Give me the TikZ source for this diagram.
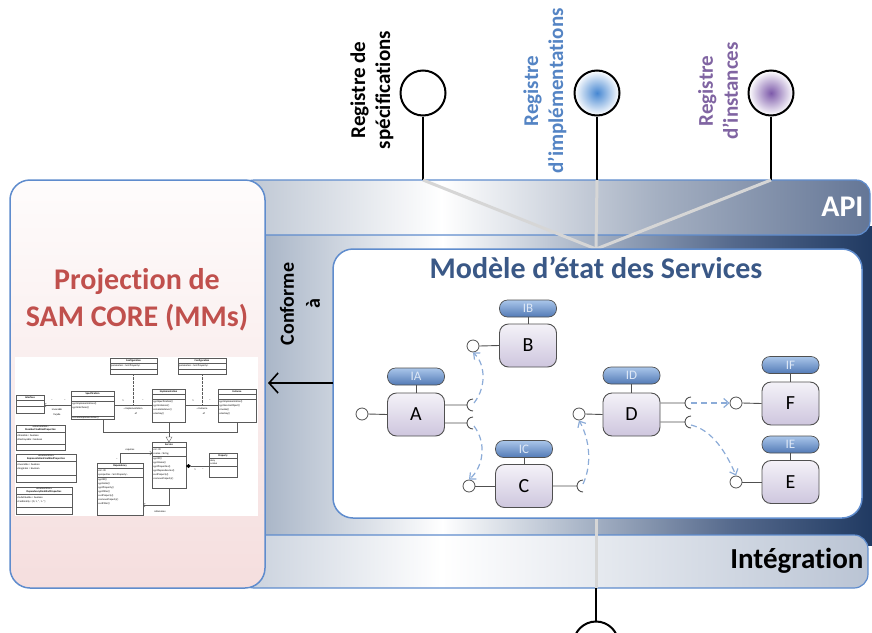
\documentclass[tikz,border=0pt]{standalone}
\usepackage{fontspec}
\setmainfont{Carlito}[Ligatures={NoCommon}]
\usetikzlibrary{arrows.meta,calc}
\definecolor{bord}{RGB}{95,140,205}
\definecolor{apiL}{RGB}{188,197,210}
\definecolor{apiM}{RGB}{165,176,194}
\definecolor{apiR}{RGB}{100,118,150}
\definecolor{midL}{RGB}{158,172,192}
\definecolor{midM}{RGB}{170,182,200}
\definecolor{midD}{RGB}{85,105,140}
\definecolor{midR}{RGB}{32,58,98}
\definecolor{intL}{RGB}{200,208,220}
\definecolor{intR}{RGB}{186,196,212}
\definecolor{projT}{RGB}{254,252,252}
\definecolor{projB}{RGB}{245,222,222}
\definecolor{projRed}{RGB}{192,80,77}
\definecolor{titleBlue}{RGB}{58,88,134}
\definecolor{implBlue}{RGB}{84,132,196}
\definecolor{instPurple}{RGB}{128,100,162}
\definecolor{greyLine}{RGB}{214,214,214}
\definecolor{dashC}{RGB}{140,172,216}
\definecolor{compBorder}{RGB}{80,80,80}
\definecolor{compT}{RGB}{244,242,248}
\definecolor{compB}{RGB}{206,198,222}
\definecolor{pillT}{RGB}{170,198,234}
\definecolor{pillB}{RGB}{82,122,182}
\definecolor{pillText}{RGB}{222,232,246}
\definecolor{radBlue}{RGB}{70,135,210}
\definecolor{radPurple}{RGB}{125,90,170}
\definecolor{umlLine}{RGB}{90,90,90}
\pgfdeclarehorizontalshading{apishade}{100bp}{color(0bp)=(apiL); color(25bp)=(apiL); color(41bp)=(white); color(58bp)=(apiM); color(75bp)=(apiR); color(100bp)=(apiR)}
\pgfdeclarehorizontalshading{midshade}{100bp}{color(0bp)=(midL); color(25bp)=(midL); color(41bp)=(white); color(52bp)=(midM); color(64bp)=(midD); color(75bp)=(midR); color(100bp)=(midR)}
\pgfdeclarehorizontalshading{intshade}{100bp}{color(0bp)=(intL); color(25bp)=(intL); color(41bp)=(white); color(75bp)=(intR); color(100bp)=(intR)}
\newcounter{utc}
\newcommand\ut[4][]{\stepcounter{utc}\node[ut,#1] (ut\arabic{utc}) at (#2,#3) {#4};}
\begin{document}
\begin{tikzpicture}[x=1pt,y=-1pt,
  comp/.style={draw=compBorder, line width=0.9pt, rounded corners=9pt, top color=compT, bottom color=compB, minimum width=57pt, minimum height=43pt, inner sep=0pt, font=\fontsize{20}{20}\selectfont},
  pill/.style={draw=compBorder, line width=0.7pt, rounded corners=8pt, top color=pillT, bottom color=pillB, minimum width=57pt, minimum height=17pt, inner sep=0pt, text=pillText, font=\fontsize{13}{13}\selectfont},
  lolli/.style={circle, draw=compBorder, fill=white, line width=0.8pt, minimum size=12pt, inner sep=0pt},
  link/.style={draw=compBorder, line width=0.9pt},
  dasharrow/.style={draw=dashC, line width=1.2pt, dash pattern=on 6pt off 4pt, -{Straight Barb[length=5pt,width=9pt]}},
  reg/.style={circle, draw=black, line width=2pt, minimum size=45pt, inner sep=0pt},
  regtext/.style={rotate=90, align=center, font=\bfseries\fontsize{21}{25}\selectfont},
  grey/.style={draw=greyLine, line width=3pt},
  ut/.style={inner sep=0pt, font=\fontsize{2.6}{3}\selectfont},
  umlc/.style={draw=umlLine, line width=0.35pt, fill=white}
]
\useasboundingbox (0,0) rectangle (872,632);
\fill[white] (0,0) rectangle (872,632);

% bands
\shade[shading=midshade] (240,226) rectangle (872,545);
\shadedraw[shading=apishade, draw=bord, line width=1.2pt, rounded corners=14pt] (240,180) rectangle (870,235);
\shadedraw[shading=intshade, draw=bord, line width=1.2pt, rounded corners=14pt] (240,535) rectangle (868,588);

% registry lollipops
\node[reg, fill=white] (regS) at (423,93) {};
\node[reg, inner color=radBlue, outer color=white] (regI) at (597,93) {};
\node[reg, inner color=radPurple, outer color=white] (regN) at (771,93) {};
\node[reg, fill=white] (regB) at (596,644) {};
\coordinate (stS) at (423,180);
\coordinate (stI) at (597,180);
\coordinate (stN) at (771,180);
\coordinate (stB) at (596,588);
\coordinate (conv) at (596,249);
\coordinate (modB) at (596,518);
\draw[line width=2pt] (regS.south) -- (stS);
\draw[line width=2pt] (regI.south) -- (stI);
\draw[line width=2pt] (regN.south) -- (stN);
\draw[line width=2pt] (regB.north) -- (stB);
\draw[grey] (stS) -- (conv);
\draw[grey] (stI) -- (conv);
\draw[grey] (stN) -- (conv);
\draw[grey] (modB) -- (stB);

\node[regtext] (tS) at (372,90) {Registre de\\spécifications};
\node[regtext, text=implBlue] (tI) at (545,91) {Registre\\d’implémentations};
\node[regtext, text=instPurple] (tN) at (718,91) {Registre\\d’instances};

% band labels
\node[anchor=east, text=white, font=\bfseries\fontsize{30}{30}\selectfont] (api) at (867,207) {API};
\node[anchor=east, font=\bfseries\fontsize{29}{29}\selectfont] (integ) at (867,561) {Intégration};

% model box
\node[draw=bord, fill=white, line width=1.5pt, rounded corners=20pt, minimum width=529pt, minimum height=269pt, inner sep=0pt] (model) at (597.5,383.5) {};
\node[text=titleBlue, font=\bfseries\fontsize{30}{30}\selectfont] (mtitle) at (596,268) {Modèle d’état des Services};

% left projection box
\node[draw=bord, top color=projT, bottom color=projB, line width=1.5pt, rounded corners=20pt, minimum width=255pt, minimum height=408pt, inner sep=0pt] (proj) at (137.5,384) {};
\node[text=projRed, align=center, font=\bfseries\fontsize{30}{37}\selectfont] (ptitle) at (137,300) {Projection de\\SAM CORE (MMs)};

% conforme
\node[regtext, font=\bfseries\fontsize{20}{26}\selectfont] (conf) at (300,304) {Conforme\\à};
\coordinate (cfS) at (333,383);
\coordinate (cfE) at (268,383);
\draw[line width=1.6pt, -{Straight Barb[length=9pt,width=20pt]}] (cfS) -- (cfE);

% ---------- UML ----------
\fill[white] (15,357) rectangle (258,516);
% Configurations
\draw[umlc] (110,358) rectangle (157,374); \draw[umlLine,line width=0.35pt] (110,363) -- (157,363) (110,369) -- (157,369);
\ut{133.5}{360.5}{\textbf{Configuration}} \ut[anchor=west]{111}{366}{parameters : Set<Property>}
\draw[umlc] (178,358) rectangle (226,374); \draw[umlLine,line width=0.35pt] (178,363) -- (226,363) (178,369) -- (226,369);
\ut{202}{360.5}{\textbf{Configuration}} \ut[anchor=west]{179}{366}{parameters : Set<Property>}
% dotted
\draw[umlLine, line width=0.35pt, densely dotted] (133,374) -- (133,405);
\draw[umlLine, line width=0.35pt, densely dotted] (202,374) -- (202,405);
% Interface
\draw[umlc] (16,395) rectangle (44,413); \draw[umlLine,line width=0.35pt] (16,400) -- (44,400) (16,406) -- (44,406);
\ut{30}{397.5}{\textbf{Interface}}
% Specification
\draw[umlc] (71,391) rectangle (114,419); \draw[umlLine,line width=0.35pt] (71,396) -- (114,396) (71,401) -- (114,401) (71,416) -- (114,416);
\ut{92.5}{393.5}{\textbf{Specification}}
\ut[anchor=west]{72}{404}{+getImplementations()} \ut[anchor=west]{72}{408}{+getInterfaces()} \ut[anchor=west]{72}{417.5}{+createImplementation()}
% Implementation
\draw[umlc] (152,389) rectangle (185,422); \draw[umlLine,line width=0.35pt] (152,394) -- (185,394) (152,399) -- (185,399);
\ut{168.5}{391.5}{\textbf{Implementation}}
\ut[anchor=west]{153}{402}{+getSpecification()} \ut[anchor=west]{153}{406}{+getInstances()} \ut[anchor=west]{153}{410}{+createInstance()} \ut[anchor=west]{153}{414}{+destroy()}
% Instance
\draw[umlc] (218,389) rectangle (256,422); \draw[umlLine,line width=0.35pt] (218,394) -- (256,394) (218,399) -- (256,399);
\ut{237}{391.5}{\textbf{Instance}}
\ut[anchor=west]{219}{402}{+getImplementation()} \ut[anchor=west]{219}{406}{+getServiceObject()} \ut[anchor=west]{219}{410}{+invoke()} \ut[anchor=west]{219}{414}{+destroy()}
% associations top row
\draw[umlLine, line width=0.35pt, -{Straight Barb[length=2pt,width=4pt]}] (71,405) -- (44,405);
\ut{52}{401}{*} \ut{65}{401}{*} \ut{57}{410}{invocable} \ut{57}{415}{façade}
\draw[umlLine, line width=0.35pt] (114,405) -- (152,405);
\ut{123}{401}{1} \ut{143}{401}{*} \ut{133}{409}{« Implementation} \ut{136}{414}{of}
\draw[umlLine, line width=0.35pt] (185,405) -- (218,405);
\ut{193}{401}{1} \ut{210}{401}{*} \ut{202}{409}{« Instance} \ut{204}{414}{of}
% generalization
\draw[umlLine, line width=0.35pt] (103,419) -- (103,432) -- (237,432) -- (237,422);
\draw[umlLine, line width=0.35pt] (169,422) -- (169,438);
\draw[umlLine, line width=0.35pt, fill=white] (169,442) -- (166,437) -- (172,437) -- cycle;
% enumerations
\draw[umlc] (16,425) rectangle (65,450); \draw[umlLine,line width=0.35pt] (16,432) -- (65,432) (16,444) -- (65,444);
\ut{40.5}{427}{«enumeration»} \ut{40.5}{430}{\textbf{MemberFinalKindProperties}}
\ut[anchor=west]{17}{435.5}{+Sharable = boolean} \ut[anchor=west]{17}{439.5}{+Destroyable = boolean}
\draw[umlc] (16,454) rectangle (76,482); \draw[umlLine,line width=0.35pt] (16,461) -- (76,461) (16,475) -- (76,475);
\ut{46}{456}{«enumeration»} \ut{46}{459}{\textbf{RepresentationFinalKindProperties}}
\ut[anchor=west]{17}{464.5}{+Invocable = boolean} \ut[anchor=west]{17}{468.5}{+Singleton = boolean}
\draw[umlc] (16,487) rectangle (72,514); \draw[umlLine,line width=0.35pt] (16,494) -- (72,494) (16,507) -- (72,507);
\ut{44}{489}{«enumeration»} \ut{44}{492}{\textbf{DependencyFinalKindProperties}}
\ut[anchor=west]{17}{497.5}{+Substituable = boolean} \ut[anchor=west]{17}{501.5}{+Cardinality = \{0, 1, *, 1..*\}}
% Service
\draw[umlc] (152,442) rectangle (186,488); \draw[umlLine,line width=0.35pt] (152,447) -- (186,447) (152,456) -- (186,456);
\ut{169}{444.5}{\textbf{Service}}
\ut[anchor=west]{153}{449.5}{+id : ID} \ut[anchor=west]{153}{453.5}{+name : String}
\ut[anchor=west]{153}{459}{+getID()} \ut[anchor=west]{153}{463}{+getName()} \ut[anchor=west]{153}{467}{+getProperties()}
\ut[anchor=west]{153}{471}{+getDependencies()} \ut[anchor=west]{153}{475}{+setProperty()} \ut[anchor=west]{153}{479}{+removeProperty()}
% Dependency
\draw[umlc] (97,463) rectangle (143,515); \draw[umlLine,line width=0.35pt] (97,468) -- (143,468) (97,477) -- (143,477);
\ut{120}{465.5}{\textbf{Dependency}}
\ut[anchor=west]{98}{470.5}{+id : ID} \ut[anchor=west]{98}{474.5}{+properties : Set<Property>}
\ut[anchor=west]{98}{480}{+getID()} \ut[anchor=west]{98}{484}{+getLinks()} \ut[anchor=west]{98}{488}{+getProperty()}
\ut[anchor=west]{98}{492}{+getFilter()} \ut[anchor=west]{98}{496}{+setProperty()} \ut[anchor=west]{98}{500}{+removeProperty()} \ut[anchor=west]{98}{504}{+setFilter()}
% Property
\draw[umlc] (209,453) rectangle (237,477); \draw[umlLine,line width=0.35pt] (209,458) -- (237,458) (209,466) -- (237,466);
\ut{223}{455.5}{\textbf{Property}}
\ut[anchor=west]{210}{460.5}{+key} \ut[anchor=west]{210}{464}{+value}
% composition
\draw[umlLine, line width=0.35pt] (191,466) -- (209,466);
\fill[black] (186,466) -- (188.5,464) -- (191,466) -- (188.5,468) -- cycle;
\ut{195}{470}{1} \ut{203}{470}{*}
% requires
\draw[umlLine, line width=0.35pt, -{Straight Barb[length=2pt,width=4pt]}] (120,463) -- (120,453) -- (152,453);
\ut{130}{450}{requires} \ut{117}{459.5}{*}
% references
\draw[umlLine, line width=0.35pt, -{Straight Barb[length=2pt,width=4pt]}] (169,488) -- (169,505) -- (143,505);
\ut{160}{512}{references}

% ---------- components ----------
% A
\node[comp] (A) at (416,414.5) {A};
\node[pill] (IA) at (416,376.5) {IA};
\node[lolli] (lA) at (362,414) {};
\coordinate (sA1) at (467,405);
\coordinate (sA2) at (467,423);
% B
\node[comp] (B) at (528,345.5) {B};
\node[pill] (IB) at (528,308.5) {IB};
\node[lolli] (lB) at (473,346) {};
% C
\node[comp] (C) at (524,486) {C};
\node[pill] (IC) at (524,449) {IC};
\node[lolli] (lC) at (469,486) {};
\coordinate (sC1) at (577,486);
% D
\node[comp] (D) at (631.5,414.5) {D};
\node[pill] (ID) at (631.5,375.5) {ID};
\node[lolli] (lD) at (579,414) {};
\coordinate (sD1) at (685,403);
\coordinate (sD2) at (685,422);
% F
\node[comp] (F) at (790.5,403.5) {F};
\node[pill] (IF) at (790.5,365) {IF};
\node[lolli] (lF) at (736,403) {};
% E
\node[comp] (E) at (790.5,482) {E};
\node[pill] (IE) at (790.5,444.5) {IE};
\node[lolli] (lE) at (736,482) {};

\foreach \n in {A,B,C,D,E,F}{
  \draw[link] (I\n.south) -- (\n.north);
  \draw[link] (l\n.east) -- (\n.west);
}
\draw[link] (A.east |- sA1) -- (sA1) ++(6,6) arc[start angle=90, end angle=270, radius=6];
\draw[link] (A.east |- sA2) -- (sA2) ++(6,6) arc[start angle=90, end angle=270, radius=6];
\draw[link] (C.east |- sC1) -- (sC1) ++(6,6) arc[start angle=90, end angle=270, radius=6];
\draw[link] (D.east |- sD1) -- (sD1) ++(6,6) arc[start angle=90, end angle=270, radius=6];
\draw[link] (D.east |- sD2) -- (sD2) ++(6,6) arc[start angle=90, end angle=270, radius=6];

% dashed dependencies
\draw[dasharrow] ($(sA1)+(7,-2)$) .. controls (488,385) and (484,362) .. (lB.south);
\draw[dasharrow] ($(sA2)+(7,3)$) .. controls (488,445) and (482,468) .. (lC.north);
\draw[dasharrow] ($(sC1)+(6,-2)$) .. controls (592,465) and (590,440) .. (lD.south);
\draw[dasharrow] ($(sD1)+(6,0)$) -- (lF.west);
\draw[dasharrow] ($(sD2)+(6,3)$) .. controls (712,430) and (726,452) .. (lE.north);
\end{tikzpicture}
\end{document}
